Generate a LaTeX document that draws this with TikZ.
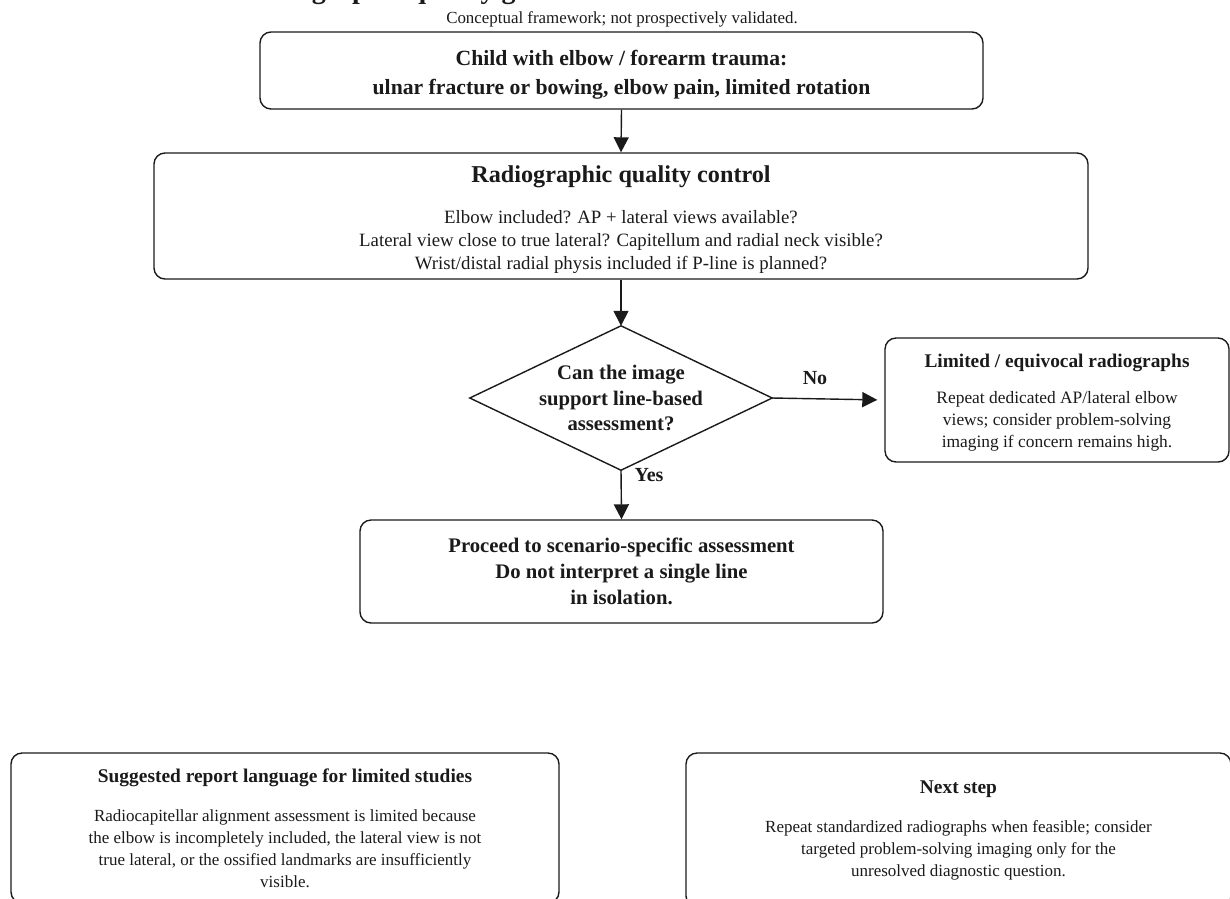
\documentclass[tikz,border=0pt]{standalone}
\usepackage{fontspec}
\setmainfont{Liberation Serif}
\usetikzlibrary{arrows.meta}
\definecolor{ink}{HTML}{1A1A1A}
\newcommand{\fsz}[2]{\fontsize{#1}{#2}\selectfont}
\tikzset{
  box/.style={draw=ink, line width=1.4pt, rounded corners=11pt, align=center, inner sep=0pt, text=ink},
  conn/.style={draw=ink, line width=1.4pt, -{Triangle[length=15pt,width=15pt]}},
  lbl/.style={text=ink, font=\fsz{20}{24}\bfseries, inner sep=0pt},
}
\begin{document}
\begin{tikzpicture}[x=1pt,y=-1pt]
\useasboundingbox (0,0) rectangle (1230,898);
\node[anchor=base west, font=\fsz{28}{32}\bfseries, text=ink, inner sep=0pt] (title) at (240,-2) {Radiographic quality gate before line-based assessment};
\node[font=\fsz{16.9}{20}, text=ink, inner sep=0pt] (sub) at (622,19) {Conceptual framework; not prospectively validated.};

\node[box, minimum width=723pt, minimum height=77pt, font=\fsz{21.7}{28.5}\bfseries] (b1) at (621.5,70.5)
  {\rule{0pt}{24pt}Child with elbow / forearm trauma:\\ulnar fracture or bowing, elbow pain, limited rotation};

\node[box, minimum width=934pt, minimum height=126pt, font=\fsz{18.8}{23}] (b2) at (621,216)
  {{\fsz{24.2}{28}\bfseries\rule{0pt}{24pt}Radiographic quality control}\\[17.5pt]
   Elbow included? AP + lateral views available?\\
   Lateral view close to true lateral? Capitellum and radial neck visible?\\
   Wrist/distal radial physis included if P-line is planned?};

\node[minimum width=302pt, minimum height=144pt, inner sep=0pt] (dec) at (621,398) {};
\draw[draw=ink, line width=1.4pt] (dec.north) -- (dec.east) -- (dec.south) -- (dec.west) -- cycle;
\node[font=\fsz{20.7}{25.5}\bfseries, align=center, text=ink, inner sep=0pt] (dectext) at (dec.center)
  {Can the image\\support line-based\\assessment?};

\node[box, minimum width=344pt, minimum height=124pt, font=\fsz{17.4}{22}] (b3) at (1057,400)
  {{\fsz{19.35}{23}\bfseries\rule{0pt}{19pt}Limited / equivocal radiographs}\\[14pt]
   Repeat dedicated AP/lateral elbow\\
   views; consider problem-solving\\
   imaging if concern remains high.};

\node[box, minimum width=523pt, minimum height=103pt, font=\fsz{20.7}{26}\bfseries] (b4) at (621.5,571.5)
  {Proceed to scenario-specific assessment\\Do not interpret a single line\\in isolation.};

\node[box, minimum width=548pt, minimum height=150pt, font=\fsz{17}{22}] (b5) at (285,828)
  {{\fsz{19.4}{23}\bfseries Suggested report language for limited studies}\\[17pt]
   Radiocapitellar alignment assessment is limited because\\
   the elbow is incompletely included, the lateral view is not\\
   true lateral, or the ossified landmarks are insufficiently\\
   visible.};

\node[box, minimum width=545pt, minimum height=154pt, font=\fsz{17}{22}] (b6) at (958.5,830)
  {{\fsz{19.4}{23}\bfseries Next step}\\[17pt]
   Repeat standardized radiographs when feasible; consider\\
   targeted problem-solving imaging only for the\\
   unresolved diagnostic question.};

\draw[conn] (b1.south) -- (b2.north);
\draw[conn] (b2.south) -- (dec.north);
\draw[conn, shorten >=7pt] (dec.east) -- (b3.west);
\draw[conn] (dec.south) -- (b4.north);
\node[lbl] (no) at (815,378) {No};
\node[lbl] (yes) at (649,475) {Yes};
\end{tikzpicture}
\end{document}
